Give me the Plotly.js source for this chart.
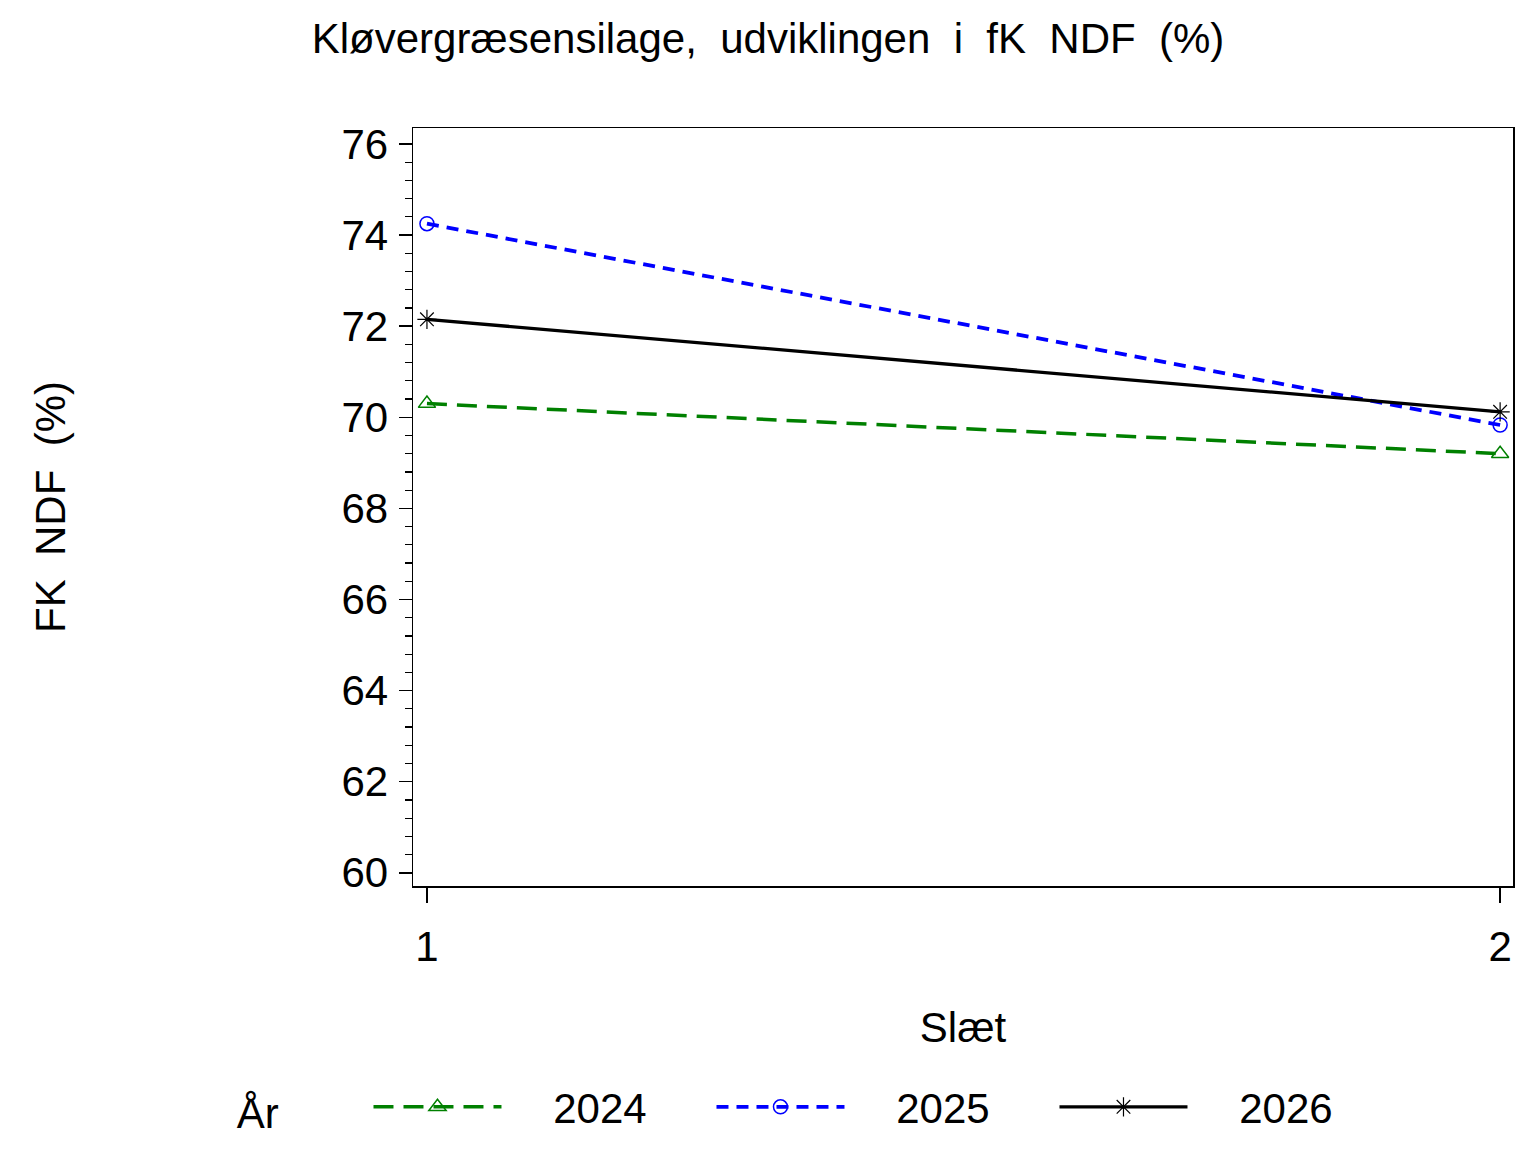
<!DOCTYPE html>
<html>
<head>
<meta charset="utf-8">
<script src="https://cdn.plot.ly/plotly-3.0.1.min.js"></script>
<style>html,body{margin:0;padding:0;background:#fff;}#chart{width:1536px;height:1152px;}</style>
</head>
<body>
<div id="chart"></div>
<script>
const slaet = [1, 2];
const years = ["2024", "2025", "2026"];
const ndf2024 = [70.3, 69.2];
const ndf2025 = [74.25, 69.83];
const ndf2026 = [72.15, 70.12];
const yTicks = [60, 62, 64, 66, 68, 70, 72, 74, 76];
const xTicks = [1, 2];

const FONT = "Liberation Sans, Arial, Helvetica, sans-serif";
const NB = "\u00A0";
const pad = n => NB.repeat(n);

const traces = [
  {x: slaet, y: ndf2024, name: pad(4) + years[0], mode: "lines+markers",
   line: {color: "#008000", width: 3.5, dash: "20px,10px"},
   marker: {symbol: "triangle-up-open", size: 15, color: "#008000", line: {width: 1.5}}},
  {x: slaet, y: ndf2025, name: pad(4) + years[1], mode: "lines+markers",
   line: {color: "#0000ff", width: 3.8, dash: "12px,8px"},
   marker: {symbol: "circle-open", size: 14, color: "#0000ff", line: {width: 1.5}}},
  {x: slaet, y: ndf2026, name: pad(4) + years[2], mode: "lines+markers",
   line: {color: "#000000", width: 3.3},
   marker: {symbol: "asterisk-open", size: 16, color: "#000000", line: {width: 1.2, color: "#000000"}}}
];

const layout = {
  width: 1536, height: 1152,
  paper_bgcolor: "#fff", plot_bgcolor: "#fff",
  margin: {l: 413, r: 23, t: 128, b: 266, autoexpand: false},
  font: {family: FONT, size: 42, color: "#000"},
  title: {text: "Kløvergræsensilage,  udviklingen  i  fK  NDF  (%)", x: 0.5, xref: "container", xanchor: "center",
          y: 1 - 38/1152, yref: "container", yanchor: "middle", font: {family: FONT, size: 42, color: "#000"}},
  xaxis: {range: [0.987, 2.012], tickvals: xTicks, ticktext: xTicks.map(String), automargin: false,
          showgrid: false, zeroline: false, showline: true, mirror: true, linecolor: "#000", linewidth: 1.5,
          ticks: "outside", ticklen: 15, tickwidth: 1.5, tickcolor: "#000", ticklabelstandoff: 8,
          tickfont: {family: FONT, size: 42},
          title: {text: "Slæt", standoff: 43, font: {family: FONT, size: 42}}},
  yaxis: {range: [59.71, 76.35], tickvals: yTicks, ticktext: yTicks.map(String), automargin: false,
          showgrid: false, zeroline: false, showline: true, mirror: true, linecolor: "#000", linewidth: 1.5,
          ticks: "outside", ticklen: 13, tickwidth: 1.5, tickcolor: "#000", ticklabelstandoff: 2,
          tickfont: {family: FONT, size: 42},
          minor: {dtick: 0.4, tick0: 60, ticks: "outside", ticklen: 7, tickwidth: 1.2, tickcolor: "#000", showgrid: false},
          title: {text: "FK  NDF  (%)", standoff: 262, font: {family: FONT, size: 42}}},
  showlegend: true,
  legend: {orientation: "h", x: -0.162, xanchor: "left", y: -0.2916, yanchor: "middle",
           title: {text: "År" + pad(7), side: "left", font: {family: FONT, size: 42}},
           font: {family: FONT, size: 42}, itemwidth: 128, entrywidth: 200, entrywidthmode: "pixels",
           bgcolor: "rgba(0,0,0,0)"}
};

Plotly.newPlot("chart", traces, layout, {displayModeBar: false, staticPlot: true});
</script>
</body>
</html>
